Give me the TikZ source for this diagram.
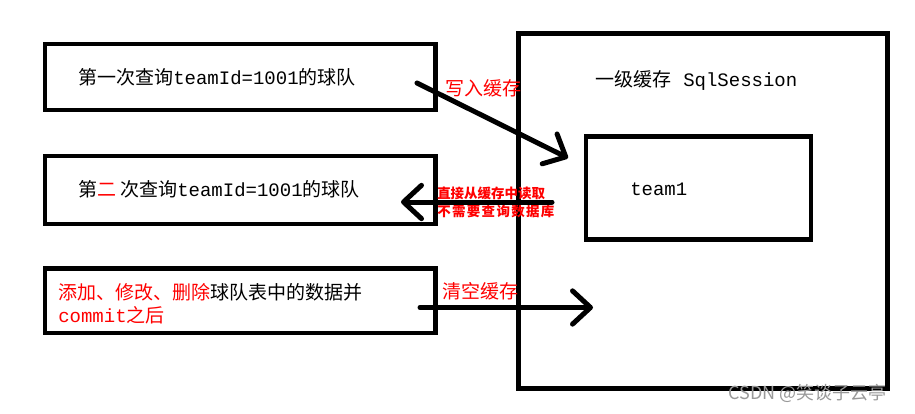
\documentclass[tikz,border=0pt]{standalone}
\usepackage{fontspec}
\usetikzlibrary{arrows.meta}
\newfontfamily\cjk{Noto Sans CJK SC}
\newfontfamily\cjkwide[LetterSpace=10]{Noto Sans CJK SC}
\newfontfamily\mono{Liberation Mono}
\newcommand\enx[1]{{\mono #1}}
\begin{document}
\begin{tikzpicture}[x=0.75pt,y=-0.75pt,
  frame/.style={draw=black, line width=3.4pt, inner sep=0pt},
  txt/.style={anchor=west, inner sep=0pt, font=\cjk\fontsize{14.25pt}{17pt}\selectfont},
  lbl/.style={txt, text=red},
  note/.style={anchor=west, inner sep=0pt, text=red, font=\cjk\bfseries\fontsize{10.1pt}{12pt}\selectfont},
  notewide/.style={note, font=\cjkwide\bfseries\fontsize{10.1pt}{12pt}\selectfont},
  arr/.style={line width=3.75pt, line cap=round, -{Straight Barb[length=13.5pt,width=25pt,round]}}]
\fill[white] (0,0) rectangle (915,414);
\useasboundingbox (0,0) rectangle (915,414);
% boxes
\node[frame, minimum width=292.9pt, minimum height=49.5pt] (b1) at (240.25,77) {};
\node[frame, minimum width=292.9pt, minimum height=51pt] (b2) at (240.25,190) {};
\node[frame, minimum width=292.9pt, minimum height=48.4pt] (b3) at (240.25,300.75) {};
\node[frame, minimum width=276.75pt, minimum height=266.25pt] (cache) at (703,211) {};
\node[frame, minimum width=168.75pt, minimum height=77.25pt] (inner) at (698.5,187.75) {};
% texts
\node[txt] (t1) at (78,77) {第一次查询\enx{teamId=1001}的球队};
\node[txt] (t2) at (78,189) {第{\color{red}二}\hspace{3pt}次查询\enx{teamId=1001}的球队};
\node[txt] (t3a) at (58,292) {{\color{red}添加、修改、删除}球队表中的数据并};
\node[txt, text=red] (t3b) at (58,315) {\enx{commit}之后};
\node[txt] (tc) at (595,80) {一级缓存\hspace{9pt}\enx{SqlSession}};
\node[txt] (tt) at (630,189) {\enx{team1}};
\node[lbl] (l1) at (445,88.5) {写入缓存};
\node[lbl] (l3) at (442,291.5) {清空缓存};
\node[note] (n1) at (437,193) {直接从缓存中读取};
\node[notewide] (n2) at (437,211) {不需要查询数据库};
\node[anchor=west, inner sep=0pt, text=black!40, font=\cjk\fontsize{13.5pt}{16pt}\selectfont] (wm) at (728,393) {CSDN @笑谈子云亭};
% arrows
\coordinate (a1s) at (417,83);
\coordinate (a1e) at (568,158);
\coordinate (a2s) at (552,202);
\coordinate (a2e) at (401,202);
\coordinate (a3s) at (420,307.5);
\coordinate (a3e) at (593,307.5);
\draw[arr] (a1s) -- (a1e);
\draw[arr] (a2s) -- (a2e);
\draw[arr] (a3s) -- (a3e);
\end{tikzpicture}
\end{document}
